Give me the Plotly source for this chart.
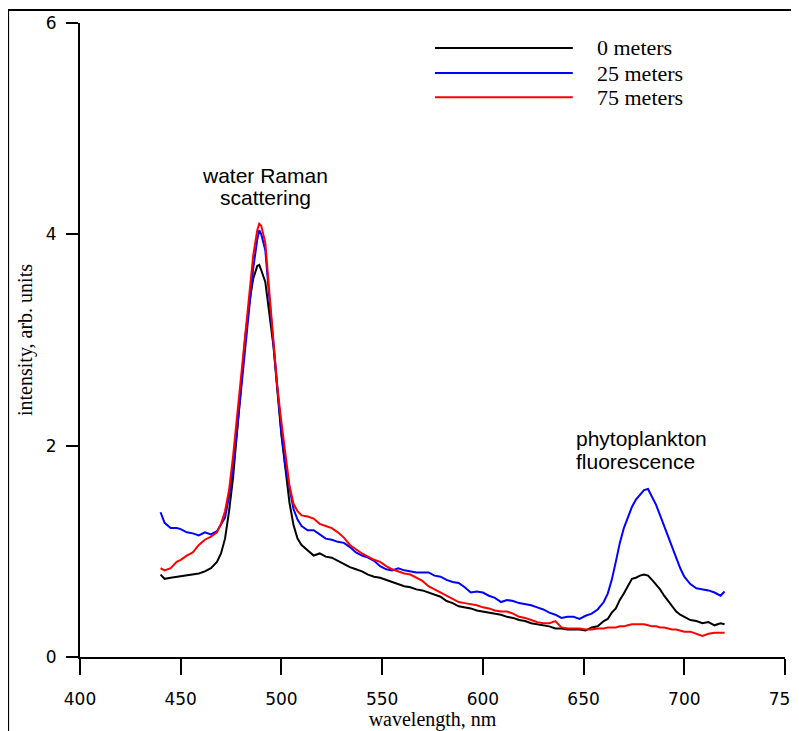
import plotly.graph_objects as go

wavelength = [440, 442, 445, 448, 450, 453, 456, 459, 462, 465, 468, 470, 472, 474, 476, 478, 480, 482, 484, 486,
              488, 489, 490, 492, 494, 496, 498, 500, 502, 504, 506, 508, 510, 513, 516, 519, 522, 525, 528, 531,
              534, 537, 540, 543, 546, 549, 552, 555, 558, 561, 564, 567, 570, 573, 576, 579, 582, 585, 588, 591,
              594, 597, 600, 603, 606, 609, 612, 615, 618, 621, 624, 627, 630, 633, 636, 639, 642, 645, 648, 651,
              654, 657, 660, 662, 664, 666, 668, 670, 672, 674, 676, 678, 680, 682, 684, 686, 688, 690, 692, 694,
              696, 698, 700, 703, 706, 709, 712, 715, 718, 720]

depth_0m = [0.78, 0.74, 0.75, 0.76, 0.76, 0.77, 0.78, 0.79, 0.81, 0.84, 0.90, 0.98, 1.12, 1.38, 1.70, 2.15, 2.60, 3.02, 3.35, 3.58,
            3.70, 3.71, 3.66, 3.55, 3.25, 2.95, 2.52, 2.10, 1.78, 1.46, 1.25, 1.12, 1.06, 1.01, 0.96, 0.98, 0.95, 0.94, 0.91, 0.88,
            0.85, 0.83, 0.81, 0.78, 0.76, 0.75, 0.73, 0.71, 0.69, 0.67, 0.66, 0.64, 0.63, 0.61, 0.59, 0.57, 0.53, 0.51, 0.48, 0.47,
            0.46, 0.44, 0.43, 0.42, 0.41, 0.40, 0.38, 0.37, 0.35, 0.34, 0.32, 0.31, 0.30, 0.29, 0.27, 0.27, 0.26, 0.26, 0.26, 0.25,
            0.28, 0.29, 0.34, 0.36, 0.42, 0.46, 0.54, 0.60, 0.67, 0.74, 0.75, 0.77, 0.78, 0.77, 0.73, 0.69, 0.64, 0.58, 0.53, 0.47,
            0.43, 0.40, 0.38, 0.35, 0.34, 0.32, 0.33, 0.30, 0.32, 0.31]

depth_25m = [1.37, 1.27, 1.22, 1.22, 1.21, 1.18, 1.17, 1.15, 1.18, 1.16, 1.19, 1.25, 1.32, 1.52, 1.80, 2.15, 2.55, 2.90, 3.30, 3.68,
             3.95, 4.04, 4.00, 3.85, 3.40, 2.98, 2.50, 2.12, 1.80, 1.58, 1.40, 1.30, 1.24, 1.20, 1.20, 1.16, 1.12, 1.11, 1.09, 1.08,
             1.04, 0.99, 0.96, 0.94, 0.91, 0.86, 0.83, 0.82, 0.84, 0.82, 0.81, 0.80, 0.80, 0.80, 0.77, 0.76, 0.73, 0.71, 0.70, 0.66,
             0.61, 0.62, 0.61, 0.58, 0.56, 0.52, 0.54, 0.53, 0.51, 0.50, 0.49, 0.47, 0.45, 0.42, 0.40, 0.37, 0.38, 0.38, 0.36, 0.39,
             0.41, 0.45, 0.52, 0.60, 0.73, 0.90, 1.08, 1.22, 1.33, 1.42, 1.49, 1.53, 1.58, 1.59, 1.52, 1.44, 1.34, 1.24, 1.13, 1.03,
             0.93, 0.84, 0.76, 0.69, 0.65, 0.64, 0.63, 0.61, 0.58, 0.62]

depth_75m = [0.84, 0.82, 0.84, 0.90, 0.92, 0.96, 0.99, 1.06, 1.11, 1.14, 1.18, 1.26, 1.38, 1.58, 1.90, 2.27, 2.70, 3.08, 3.45, 3.80,
             4.04, 4.10, 4.08, 3.92, 3.45, 2.98, 2.55, 2.22, 1.90, 1.62, 1.45, 1.38, 1.34, 1.33, 1.31, 1.26, 1.24, 1.22, 1.18, 1.13,
             1.06, 1.02, 0.98, 0.95, 0.92, 0.90, 0.86, 0.83, 0.81, 0.79, 0.78, 0.75, 0.72, 0.67, 0.64, 0.61, 0.58, 0.55, 0.52, 0.51,
             0.50, 0.49, 0.47, 0.46, 0.44, 0.43, 0.43, 0.41, 0.38, 0.37, 0.35, 0.33, 0.32, 0.32, 0.34, 0.28, 0.27, 0.27, 0.27, 0.26,
             0.26, 0.27, 0.27, 0.28, 0.28, 0.28, 0.29, 0.29, 0.30, 0.31, 0.31, 0.31, 0.31, 0.30, 0.29, 0.29, 0.28, 0.28, 0.27, 0.26,
             0.26, 0.25, 0.24, 0.24, 0.22, 0.20, 0.22, 0.23, 0.23, 0.23]

series_names = ["0 meters", "25 meters", "75 meters"]
series_colors = ["#000000", "#0000ff", "#ff0000"]
x_ticks = [400, 450, 500, 550, 600, 650, 700, 750]
y_ticks = [0, 2, 4, 6]

fig = go.Figure()
for name, color, vals in zip(series_names, series_colors, [depth_0m, depth_25m, depth_75m]):
    fig.add_trace(go.Scatter(x=wavelength, y=vals, mode="lines", name=name, showlegend=False,
                             line=dict(color=color, width=2)))

tick_font = dict(family="DejaVu Sans", size=17, color="#000000")
serif = "Liberation Serif, Times New Roman, serif"
sans = "Liberation Sans, Arial, sans-serif"
ann_font = dict(family=sans, size=21, color="#000000")

annotations = [
    dict(x=492, y=4.56, xref="x", yref="y", text="water Raman", showarrow=False, font=ann_font),
    dict(x=492, y=4.35, xref="x", yref="y", text="scattering", showarrow=False, font=ann_font),
    dict(x=645, y=2.07, xref="x", yref="y", text="phytoplankton", showarrow=False, xanchor="left", font=ann_font),
    dict(x=645, y=1.85, xref="x", yref="y", text="fluorescence", showarrow=False, xanchor="left", font=ann_font),
]
shapes = [dict(type="rect", xref="paper", yref="paper", x0=-0.102, x1=1.2, y0=-0.3, y1=1.0205,
               line=dict(color="#000000", width=2), fillcolor="rgba(0,0,0,0)", layer="above")]

# key (legend) drawn as line samples + labels, placed in the upper right of the plot
key_rows_y = [0.9606, 0.921, 0.883]
for name, color, ky in zip(series_names, series_colors, key_rows_y):
    shapes.append(dict(type="line", xref="paper", yref="paper", x0=0.5035, x1=0.699, y0=ky, y1=ky,
                       line=dict(color=color, width=2)))
    annotations.append(dict(x=0.7305, y=ky, xref="paper", yref="paper", text=name, showarrow=False,
                            xanchor="left", yanchor="middle",
                            font=dict(family=serif, size=22, color="#000000")))

fig.update_layout(
    width=791, height=723,
    margin=dict(l=72, r=14, t=15, b=74, autoexpand=False),
    paper_bgcolor="white", plot_bgcolor="white",
    showlegend=False,
    xaxis=dict(range=[400, 750], tickvals=x_ticks, ticktext=[str(v) for v in x_ticks],
               showgrid=False, zeroline=False, showline=True, linecolor="#000000", linewidth=2,
               ticks="outside", ticklen=16, tickwidth=2, tickcolor="#000000",
               tickfont=tick_font, ticklabelstandoff=10, ticklabeloverflow="allow", automargin=False,
               title=dict(text="wavelength, nm", font=dict(family=serif, size=20, color="#000000"), standoff=8)),
    yaxis=dict(range=[0, 6], tickvals=y_ticks, ticktext=[str(v) for v in y_ticks],
               showgrid=False, zeroline=False, showline=True, linecolor="#000000", linewidth=2,
               ticks="outside", ticklen=12, tickwidth=2, tickcolor="#000000",
               tickfont=tick_font, ticklabelstandoff=6, automargin=False,
               title=dict(text="intensity, arb. units", font=dict(family=serif, size=20, color="#000000"), standoff=8)),
    annotations=annotations,
    shapes=shapes,
)

fig.write_html("out.html")
